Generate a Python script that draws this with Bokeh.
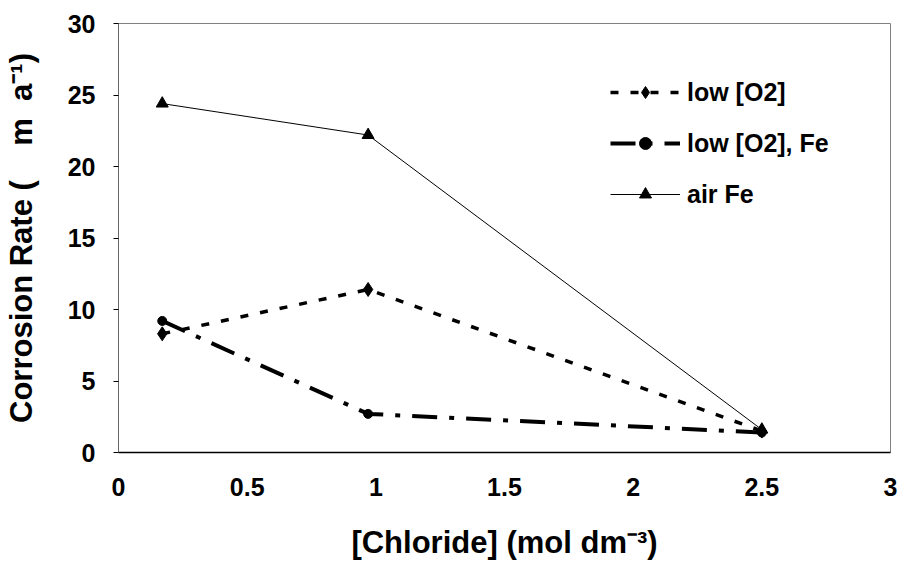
from bokeh.plotting import figure
from bokeh.models import Range1d, FixedTicker, Legend, LegendItem
from bokeh.embed import file_html
from bokeh.resources import INLINE

# ---- data ----
chloride = [0.17, 0.97, 2.5]
low_o2 = [8.3, 11.4, 1.5]
low_o2_fe = [9.2, 2.7, 1.4]
air_fe = [24.4, 22.2, 1.6]

x_ticks = [0, 0.5, 1, 1.5, 2, 2.5, 3]
x_tick_labels = ["0", "0.5", "1", "1.5", "2", "2.5", "3"]
y_ticks = [0, 5, 10, 15, 20, 25, 30]
y_tick_labels = ["0", "5", "10", "15", "20", "25", "30"]

x_title = "[Chloride] (mol dm\u207b\u00b3)"
y_title = "Corrosion Rate (\u00a0\u00a0\u00a0\u00a0m\u00a0\u00a0a\u207b\u00b9)"
names = ["low [O2]", "low [O2], Fe", "air Fe"]

FONT = "Liberation Sans"

p = figure(width=900, height=570, output_backend="svg", toolbar_location=None,
           x_range=Range1d(0, 3), y_range=Range1d(0, 30),
           min_border_left=118, min_border_right=10, min_border_top=23, min_border_bottom=118)

p.background_fill_color = "white"
p.border_fill_color = "white"
p.outline_line_color = "#808080"
p.outline_line_width = 1
p.xgrid.visible = False
p.ygrid.visible = False

# axes
p.xaxis.ticker = FixedTicker(ticks=x_ticks)
p.xaxis.major_label_overrides = {t: l for t, l in zip(x_ticks, x_tick_labels)}
p.yaxis.ticker = FixedTicker(ticks=y_ticks)
p.yaxis.major_label_overrides = {t: l for t, l in zip(y_ticks, y_tick_labels)}

for ax in (p.xaxis, p.yaxis):
    ax.major_label_text_font = FONT
    ax.major_label_text_font_style = "bold"
    ax.major_label_text_font_size = "25px"
    ax.major_label_text_color = "black"
    ax.axis_label_text_font = FONT
    ax.axis_label_text_font_style = "bold"
    ax.axis_label_text_font_size = "31px"
    ax.axis_label_text_color = "black"
    ax.minor_tick_line_color = None

p.xaxis.axis_label = x_title
p.xaxis.axis_line_color = "black"
p.xaxis.axis_line_width = 1.5
p.xaxis.major_tick_out = 0
p.xaxis.major_tick_in = 0
p.xaxis.major_label_standoff = 25
p.xaxis.axis_label_standoff = 26

p.yaxis.axis_label = y_title
p.yaxis.axis_line_color = "#666666"
p.yaxis.axis_line_width = 1
p.yaxis.major_tick_out = 5
p.yaxis.major_tick_in = 0
p.yaxis.major_tick_line_color = "black"
p.yaxis.major_label_standoff = 18
p.yaxis.axis_label_standoff = 26

# series
l1 = p.line(chloride, low_o2, line_color="black", line_width=3.5, line_dash="8 12")
m1 = p.scatter(chloride, low_o2, marker="diamond", size=14, fill_color="black", line_color="black")

l2 = p.line(chloride, low_o2_fe, line_color="black", line_width=4, line_dash="25 12 5 12")
m2 = p.scatter(chloride, low_o2_fe, marker="circle", size=9, fill_color="black", line_color="black")

l3 = p.line(chloride, air_fe, line_color="black", line_width=1)
m3 = p.scatter(chloride, air_fe, marker="triangle", size=12, fill_color="black", line_color="black")

legend = Legend(items=[
    LegendItem(label=names[0], renderers=[l1, m1]),
    LegendItem(label=names[1], renderers=[l2, m2]),
    LegendItem(label=names[2], renderers=[l3, m3]),
], location=(492, 243))
legend.label_text_font = FONT
legend.label_text_font_style = "bold"
legend.label_text_font_size = "25px"
legend.label_text_color = "black"
legend.glyph_width = 70
legend.glyph_height = 30
legend.label_height = 30
legend.spacing = 21
legend.label_standoff = 7
legend.padding = 0
legend.margin = 0
legend.border_line_alpha = 0
legend.background_fill_alpha = 0
p.add_layout(legend, "center")

open("out.html", "w").write(file_html(p, INLINE))
